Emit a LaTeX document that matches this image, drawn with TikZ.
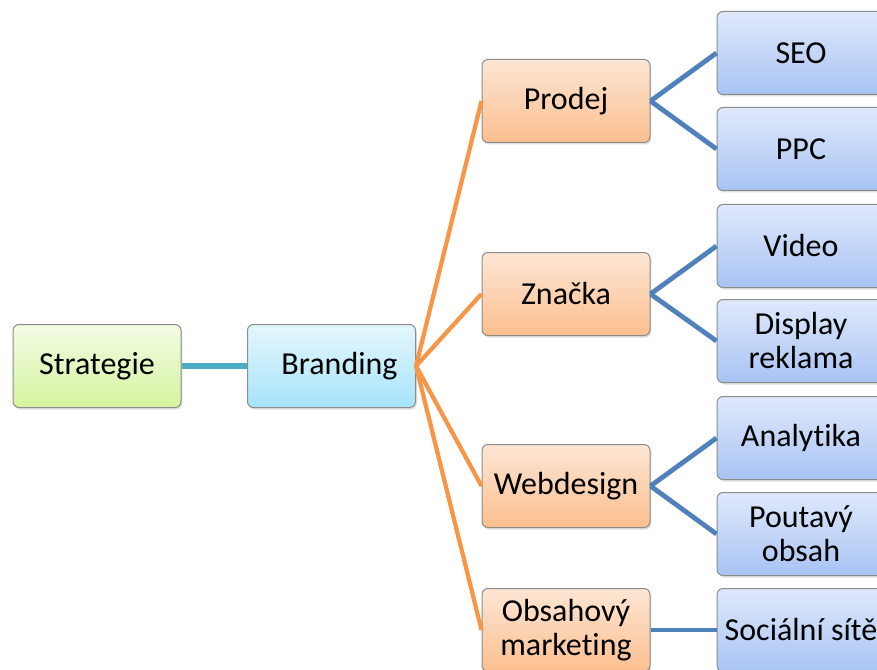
\documentclass[tikz,border=0pt]{standalone}
\usepackage{fontspec}
\setmainfont{Carlito}[Ligatures=NoCommon]
\usepackage{tikz}
\usetikzlibrary{shadows}

\definecolor{lineTeal}{HTML}{4BACC6}
\definecolor{lineOrange}{HTML}{F79646}
\definecolor{lineBlue}{HTML}{4F81BD}
\definecolor{boxBorder}{HTML}{8C8C8C}

\begin{document}
\begin{tikzpicture}[x=0.75pt,y=-0.75pt,
    box/.style={draw=boxBorder,line width=0.75pt,rounded corners=4.5pt,
      minimum width=126pt,minimum height=62.25pt,align=center,
      font=\fontsize{24}{25.5}\selectfont,
      drop shadow={shadow xshift=1pt,shadow yshift=-1.5pt,opacity=0.25}},
    greenbox/.style={box,top color={rgb,255:red,242;green,251;blue,228},bottom color={rgb,255:red,214;green,244;blue,160}},
    cyanbox/.style={box,top color={rgb,255:red,228;green,247;blue,253},bottom color={rgb,255:red,166;green,228;blue,250}},
    orangebox/.style={box,top color={rgb,255:red,253;green,230;blue,212},bottom color={rgb,255:red,251;green,191;blue,143}},
    bluebox/.style={box,top color={rgb,255:red,223;green,233;blue,251},bottom color={rgb,255:red,168;green,195;blue,244}},
    tealline/.style={lineTeal,line width=4pt},
    orangeline/.style={lineOrange,line width=3.2pt},
    blueline/.style={lineBlue,line width=3.6pt}]
      \useasboundingbox (0,0) rectangle (877,670);
      % root and first level
      \node[greenbox] (strategie) at (97,366) {Strategie};
      \node[cyanbox] (branding) at (331.5,366) {\hspace*{12pt}Branding};
      % second level
      \node[orangebox] (prodej) at (566,101) {Prodej};
      \node[orangebox] (znacka) at (566,294) {Značka};
      \node[orangebox] (webdesign) at (566,486) {Webdesign};
      \node[orangebox] (obsah) at (566,630) {Obsahový\\marketing};
      % leaves
      \node[bluebox] (seo) at (801,53) {SEO};
      \node[bluebox] (ppc) at (801,149) {PPC};
      \node[bluebox] (video) at (801,246) {Video};
      \node[bluebox] (display) at (801,341) {Display\\reklama};
      \node[bluebox] (analytika) at (801,438) {Analytika};
      \node[bluebox] (poutavy) at (801,534) {Poutavý\\obsah};
      \node[bluebox] (socialni) at (801,630) {Sociální sítě};
      % connectors
      \draw[tealline] (strategie.east) -- (branding.west);
      \foreach \n in {prodej,znacka,webdesign,obsah}
        \draw[orangeline] (branding.east) -- (\n.west);
      \draw[blueline] (prodej.east) -- (seo.west);
      \draw[blueline] (prodej.east) -- (ppc.west);
      \draw[blueline] (znacka.east) -- (video.west);
      \draw[blueline] (znacka.east) -- (display.west);
      \draw[blueline] (webdesign.east) -- (analytika.west);
      \draw[blueline] (webdesign.east) -- (poutavy.west);
      \draw[blueline] (obsah.east) -- (socialni.west);
    \end{tikzpicture}
\end{document}
